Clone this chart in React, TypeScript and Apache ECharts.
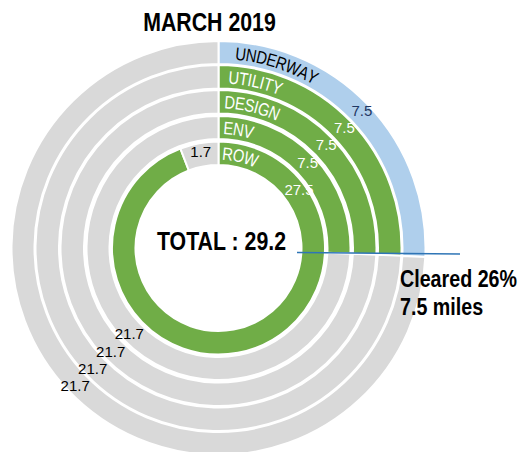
import React, { useEffect, useRef } from "react";
import * as echarts from "echarts";

// ---- data ----
const chartTitle = "MARCH 2019";
const ringNames = ["ROW", "ENV", "DESIGN", "UTILITY", "UNDERWAY"];
const doneValues = [27.5, 7.5, 7.5, 7.5, 7.5];
const remainingValues = [1.7, 21.7, 21.7, 21.7, 21.7];
const totalMiles = 29.2;
const clearedMiles = 7.5;
const clearedPct = 26;

// ---- layout / style ----
const W = 521;
const H = 452;
const CX = 218.5;
const CY = 248;
const RADII: [number, number][] = [
  [83, 106.5],
  [109, 132],
  [134.5, 158],
  [159.5, 183],
  [184, 207],
];
const NAME_START = [4, 5, 6, 10, 17];
const FONT = "'Liberation Sans', Arial, sans-serif";
const NARROW_SCALE = 0.82;
const GREEN = "#70AD47";
const GREY = "#D9D9D9";
const BLUE = "#AFCFEC";
const NAVY = "#1F3864";

function arcText(text: string, r: number, startArc: number, color: string) {
  const font = `18px ${FONT}`;
  const ctx = document.createElement("canvas").getContext("2d")!;
  ctx.font = font;
  let s = startArc;
  const out: any[] = [];
  for (const ch of text) {
    const w = ctx.measureText(ch).width * NARROW_SCALE;
    const a = (s + w / 2) / r;
    out.push({
      type: "text",
      x: CX + r * Math.sin(a),
      y: CY - r * Math.cos(a),
      rotation: -a,
      scaleX: NARROW_SCALE,
      z: 50,
      silent: true,
      style: { text: ch, fill: color, font, align: "center", verticalAlign: "middle" },
    });
    s += w;
  }
  return out;
}

function narrowText(text: string, x: number, y: number, size: number, align: string) {
  return {
    type: "text",
    x,
    y,
    scaleX: NARROW_SCALE,
    z: 50,
    silent: true,
    style: {
      text,
      font: `bold ${size}px ${FONT}`,
      fill: "#000000",
      align,
      verticalAlign: "middle",
    },
  };
}

export default function App() {
  const ref = useRef<HTMLDivElement>(null);
  useEffect(() => {
    if (!ref.current) return;
    const chart = echarts.init(ref.current, undefined, { renderer: "svg" });

    const series = ringNames.map((name, i) => {
      const outer = i === ringNames.length - 1;
      return {
        type: "pie",
        radius: RADII[i],
        center: [CX, CY],
        startAngle: 90,
        clockwise: true,
        silent: true,
        animation: false,
        emphasis: { disabled: true },
        itemStyle: { borderColor: "#ffffff", borderWidth: 2 },
        label: {
          show: true,
          position: "inside",
          formatter: "{c}",
          fontFamily: FONT,
          fontSize: 15,
        },
        labelLine: { show: false },
        labelLayout:
          i === 0
            ? (p: any) => (p.dataIndex === 0 ? { dx: 62.7, dy: -154.7 } : {})
            : undefined,
        data: [
          {
            name,
            value: doneValues[i],
            itemStyle: { color: outer ? BLUE : GREEN },
            label: { color: outer ? NAVY : "#ffffff" },
          },
          {
            name: name + " remaining",
            value: remainingValues[i],
            itemStyle: { color: GREY },
            label: { color: "#000000" },
          },
        ],
      };
    });

    const names: any[] = [];
    ringNames.forEach((name, i) => {
      const r = (RADII[i][0] + RADII[i][1]) / 2;
      const outer = i === ringNames.length - 1;
      names.push(...arcText(name, r, NAME_START[i], outer ? "#000000" : "#ffffff"));
    });

    chart.setOption({
      animation: false,
      series,
      graphic: [
        narrowText(chartTitle, 209.5, 22, 26, "center"),
        narrowText(`TOTAL : ${totalMiles}`, 221.5, 241, 26, "center"),
        {
          type: "line",
          z: 60,
          silent: true,
          shape: { x1: 297, y1: 252.5, x2: 460, y2: 254 },
          style: { stroke: "#2E75B6", lineWidth: 1.5 },
        },
        narrowText(`Cleared ${clearedPct}%`, 400, 278.5, 24, "left"),
        narrowText(`${clearedMiles} miles`, 400, 307, 24, "left"),
        ...names,
      ],
    });
    return () => chart.dispose();
  }, []);
  return (
    <div
      ref={ref}
      style={{ position: "fixed", left: 0, top: 0, width: W, height: H, background: "#fff" }}
    />
  );
}
